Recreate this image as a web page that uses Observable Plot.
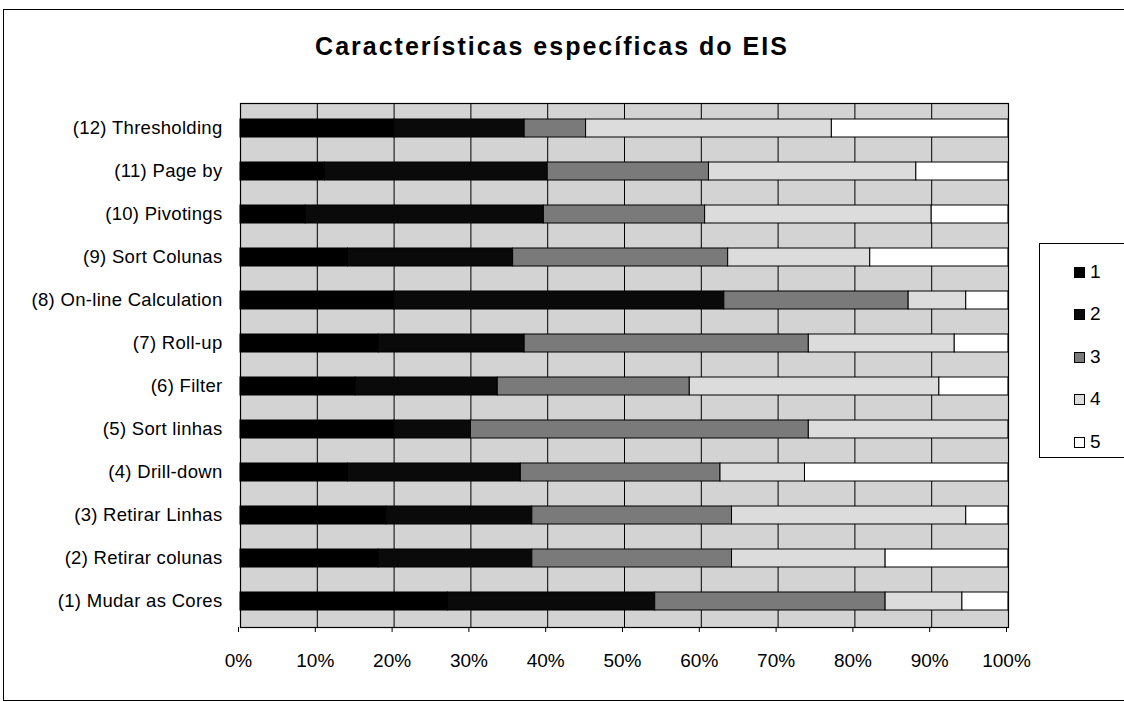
<!DOCTYPE html>
<html>
<head>
<meta charset="utf-8">
<script src="https://cdn.jsdelivr.net/npm/d3@7"></script>
<script src="https://cdn.jsdelivr.net/npm/@observablehq/plot@0.6"></script>
<style>
  html, body { margin: 0; padding: 0; background: #fff; overflow: hidden; }
  #wrap { position: relative; width: 1124px; height: 702px; font-family: "Liberation Sans", Arial, sans-serif; color: #000; }
  #border { position: absolute; left: 3px; top: 9px; width: 1140px; height: 690px;
            border-left: 1.5px solid #000; border-top: 1.5px solid #000; border-bottom: 1.5px solid #000; }
  #title { position: absolute; left: -10px; top: 32px; width: 1124px; text-align: center;
           font-weight: bold; font-size: 25px; letter-spacing: 2px; }
  #chart { position: absolute; left: 0; top: 0; }
  #legend { position: absolute; left: 1039px; top: 243px; width: 120px; height: 213px;
            border-left: 1px solid #000; border-top: 1px solid #000; border-bottom: 1px solid #000; }
  .item { position: absolute; left: 34px; height: 20px; display: flex; align-items: center; font-size: 19px; }
  .swatch { width: 9px; height: 9px; border: 1px solid #000; margin-right: 5px; }
  #chart svg g[aria-label="y-axis tick label"] text { letter-spacing: 0.3px; }
</style>
</head>
<body>
<div id="wrap">
  <div id="border"></div>
  <div id="title">Características específicas do EIS</div>
  <div id="chart"></div>
  <div id="legend"></div>
</div>
<script>
// Categories, listed from top to bottom
const categories = [
  "(12) Thresholding",
  "(11) Page by",
  "(10) Pivotings",
  "(9) Sort Colunas",
  "(8) On-line Calculation",
  "(7) Roll-up",
  "(6) Filter",
  "(5) Sort linhas",
  "(4) Drill-down",
  "(3) Retirar Linhas",
  "(2) Retirar colunas",
  "(1) Mudar as Cores"
];

// Share of answers (%) per rating, same order as categories
const rating1 = [20, 11, 8.5, 14, 20, 18, 15, 20, 14, 19, 18, 27];
const rating2 = [17, 29, 31, 21.5, 43, 19, 18.5, 10, 22.5, 19, 20, 27];
const rating3 = [8, 21, 21, 28, 24, 37, 25, 44, 26, 26, 26, 30];
const rating4 = [32, 27, 29.5, 18.5, 7.5, 19, 32.5, 26, 11, 30.5, 20, 10];
const rating5 = [23, 12, 10, 18, 5.5, 7, 9, 0, 26.5, 5.5, 16, 6];

const seriesNames = ["1", "2", "3", "4", "5"];
const seriesColors = ["#000000", "#0a0a0a", "#7a7a7a", "#dcdcdc", "#ffffff"];
const xTicks = [0, 10, 20, 30, 40, 50, 60, 70, 80, 90, 100];

const seriesValues = [rating1, rating2, rating3, rating4, rating5];
const rows = [];
categories.forEach((cat, i) => {
  seriesNames.forEach((s, k) => rows.push({cat, series: s, value: seriesValues[k][i]}));
});

const chart = Plot.plot({
  width: 1124,
  height: 702,
  marginLeft: 240,
  marginRight: 116,
  marginTop: 103,
  marginBottom: 75,
  style: {fontFamily: "'Liberation Sans', Arial, sans-serif", fontSize: "19px", color: "#000", background: "transparent", overflow: "visible"},
  x: {domain: [0, 100], label: null},
  y: {domain: categories, label: null, paddingInner: 0.575, paddingOuter: 0.345},
  color: {domain: seriesNames, range: seriesColors},
  marks: [
    Plot.frame({fill: "#d3d3d3", stroke: null}),
    Plot.ruleX(xTicks, {stroke: "#000", strokeWidth: 1}),
    Plot.barX(rows, Plot.stackX({
      y: "cat", x: "value", fill: "series", order: seriesNames,
      stroke: "#000", strokeWidth: 1, inset: 0
    })),
    Plot.frame({stroke: "#000", strokeWidth: 1.2}),
    Plot.axisX(xTicks, {
      tickFormat: d => d + "%", tickSize: 5, tickPadding: 21, stroke: "#000",
      fontSize: 19, dx: -2, label: null
    }),
    Plot.axisY({tickSize: 0, tickPadding: 18, fontSize: 18.5, label: null})
  ]
});
document.getElementById("chart").appendChild(chart);

// Legend box at the right of the plot
const legend = document.getElementById("legend");
const rowTops = [18, 60, 103, 145, 188];
seriesNames.forEach((s, k) => {
  const item = document.createElement("div");
  item.className = "item";
  item.style.top = rowTops[k] + "px";
  const sw = document.createElement("div");
  sw.className = "swatch";
  sw.style.background = seriesColors[k];
  const label = document.createElement("span");
  label.textContent = s;
  item.appendChild(sw);
  item.appendChild(label);
  legend.appendChild(item);
});
</script>
</body>
</html>
